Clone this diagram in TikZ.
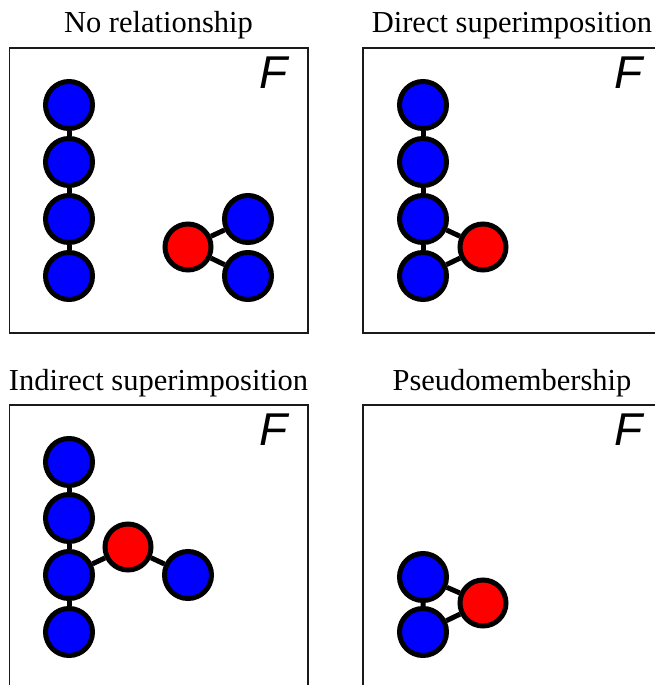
\documentclass[tikz,border=0pt]{standalone}
\usepackage{fontspec}
\setmainfont{Liberation Serif}
\setsansfont{Liberation Sans}
\usepackage{xcolor}
\definecolor{cAtom}{HTML}{0000FF}
\definecolor{cHit}{HTML}{FF0000}
\definecolor{cFrame}{HTML}{1A1A1A}
\usepackage{tikz}
\usetikzlibrary{positioning}
\tikzset{
  node-blue/.style={draw=black,line width=5pt,circle,minimum size=47pt,
    inner sep=0pt,fill=cAtom},
  node-red/.style={draw=black,line width=5pt,circle,minimum size=46pt,
    inner sep=0pt,fill=cHit},
  bond/.style={line width=5pt,draw=black},
  panel/.style={line width=1.5pt,draw=cFrame},
  title/.style={font=\fontsize{30.5}{36}\selectfont,anchor=base,inner sep=0pt},
  label-f/.style={font=\sffamily\itshape\fontsize{46}{54}\selectfont,
    anchor=north east,inner sep=0pt},
}

\begin{document}
\begin{tikzpicture}[x=1pt,y=1pt]
  \useasboundingbox (0,0) rectangle (655,-685);
  \clip (0,0) rectangle (655,-685);
  % frames
  \draw[panel] (9.5,-48)  rectangle (308,-333);
  \draw[panel] (363,-48)  rectangle (662,-333);
  \draw[panel] (9.5,-405) rectangle (308,-690);
  \draw[panel] (363,-405) rectangle (662,-690);
  % titles
  \node[title] (t1) at (158.5,-33) {No relationship};
  \node[title] (t2) at (512,-33)   {Direct superimposition};
  \node[title] (t3) at (158.5,-390) {Indirect superimposition};
  \node[title] (t4) at (512,-390)  {Pseudomembership};
  \node[label-f] (f1) at (288,-57)  {F};
  \node[label-f] (f2) at (643,-57)  {F};
  \node[label-f] (f3) at (288,-414) {F};
  \node[label-f] (f4) at (643,-414) {F};

  % no relationship
  \node[node-blue] (a1) at (69,-105) {};
  \node[node-blue] (a2) at (69,-162) {};
  \node[node-blue] (a3) at (69,-219) {};
  \node[node-blue] (a4) at (69,-276) {};
  \node[node-red]  (ar) at (188,-247) {};
  \node[node-blue] (a5) at (248,-219) {};
  \node[node-blue] (a6) at (248,-276) {};
  \draw[bond] (a1) -- (a2) (a2) -- (a3) (a3) -- (a4);
  \draw[bond] (ar) -- (a5) (ar) -- (a6);

  % direct superimposition
  \node[node-blue] (b1) at (423,-105) {};
  \node[node-blue] (b2) at (423,-162) {};
  \node[node-blue] (b3) at (423,-219) {};
  \node[node-blue] (b4) at (423,-276) {};
  \node[node-red]  (br) at (483,-247) {};
  \draw[bond] (b1) -- (b2) (b2) -- (b3) (b3) -- (b4);
  \draw[bond] (b3) -- (br) (b4) -- (br);

  % indirect superimposition
  \node[node-blue] (c1) at (69,-462) {};
  \node[node-blue] (c2) at (69,-518) {};
  \node[node-blue] (c3) at (69,-575) {};
  \node[node-blue] (c4) at (69,-632) {};
  \node[node-red]  (cr) at (128,-547) {};
  \node[node-blue] (c5) at (188,-575) {};
  \draw[bond] (c1) -- (c2) (c2) -- (c3) (c3) -- (c4);
  \draw[bond] (c3) -- (cr) (cr) -- (c5);

  % pseudomembership
  \node[node-blue] (d1) at (423,-577) {};
  \node[node-blue] (d2) at (423,-632) {};
  \node[node-red]  (dr) at (483,-603) {};
  \draw[bond] (d1) -- (d2) (d1) -- (dr) (d2) -- (dr);
\end{tikzpicture}
\end{document}
